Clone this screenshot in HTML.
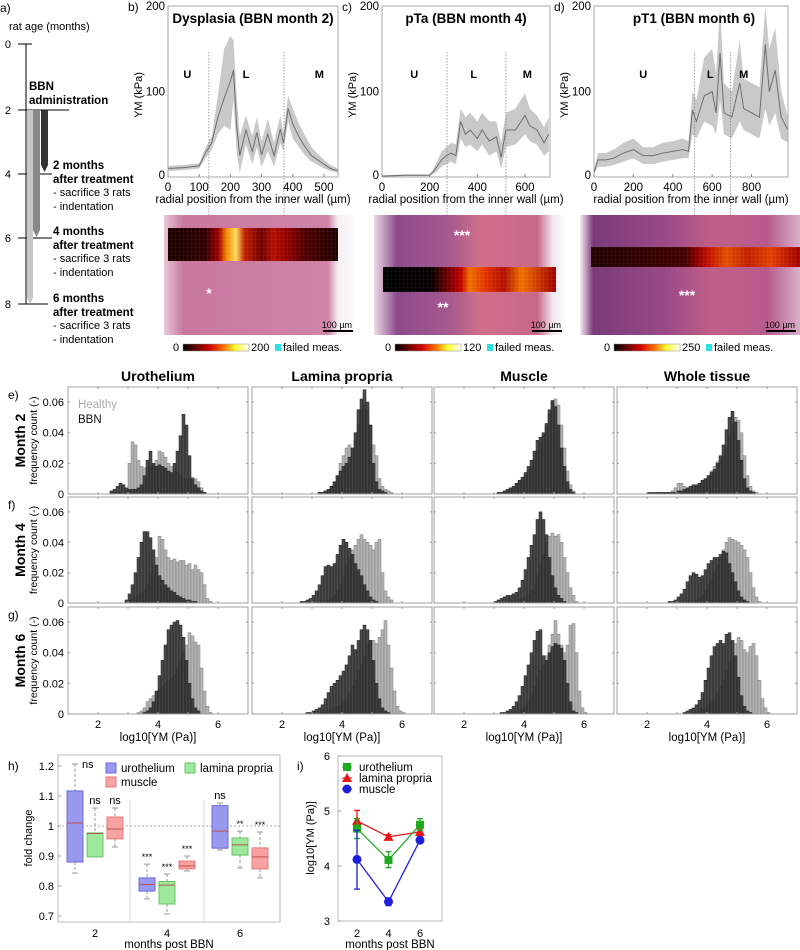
<!DOCTYPE html>
<html><head><meta charset="utf-8"><style>
html,body{margin:0;padding:0;background:#fff}
svg{display:block;font-family:"Liberation Sans",sans-serif}
</style></head><body>
<svg id="fig" width="800" height="950" viewBox="0 0 800 950" xmlns="http://www.w3.org/2000/svg">
<defs>
<linearGradient id="cbar" x1="0" x2="1"><stop offset="0" stop-color="#000"/><stop offset="0.4" stop-color="#c00"/><stop offset="0.6" stop-color="#f60"/><stop offset="0.8" stop-color="#ff3"/><stop offset="1" stop-color="#fff"/></linearGradient>
<linearGradient id="heB" x1="0" x2="1"><stop offset="0" stop-color="#e8c8d8"/><stop offset="0.1" stop-color="#c9789f"/><stop offset="0.85" stop-color="#cf84a8"/><stop offset="0.9" stop-color="#f4eef2"/><stop offset="1" stop-color="#fff"/></linearGradient>
<linearGradient id="heC" x1="0" x2="1"><stop offset="0" stop-color="#eadce4"/><stop offset="0.12" stop-color="#8e4a8c"/><stop offset="0.4" stop-color="#a85a90"/><stop offset="0.55" stop-color="#d0708a"/><stop offset="0.85" stop-color="#c8688a"/><stop offset="0.93" stop-color="#f0e6ec"/><stop offset="1" stop-color="#fff"/></linearGradient>
<linearGradient id="heD" x1="0" x2="1"><stop offset="0" stop-color="#f5eef2"/><stop offset="0.06" stop-color="#7a3a78"/><stop offset="0.4" stop-color="#9c4a88"/><stop offset="0.6" stop-color="#c06088"/><stop offset="0.85" stop-color="#b85a8c"/><stop offset="1" stop-color="#d8b0c8"/></linearGradient>
<linearGradient id="hmB" x1="0" x2="1"><stop offset="0" stop-color="#1a0000"/><stop offset="0.22" stop-color="#300000"/><stop offset="0.3" stop-color="#a00000"/><stop offset="0.34" stop-color="#f08000"/><stop offset="0.4" stop-color="#ffe060"/><stop offset="0.45" stop-color="#c02000"/><stop offset="0.55" stop-color="#700000"/><stop offset="0.62" stop-color="#b01000"/><stop offset="0.7" stop-color="#900000"/><stop offset="0.8" stop-color="#500000"/><stop offset="1" stop-color="#200000"/></linearGradient>
<linearGradient id="hmC" x1="0" x2="1"><stop offset="0" stop-color="#000"/><stop offset="0.28" stop-color="#080000"/><stop offset="0.33" stop-color="#400000"/><stop offset="0.45" stop-color="#c00000"/><stop offset="0.5" stop-color="#f07000"/><stop offset="0.6" stop-color="#e03000"/><stop offset="0.7" stop-color="#b01000"/><stop offset="0.8" stop-color="#f07000"/><stop offset="1" stop-color="#a00000"/></linearGradient>
<linearGradient id="hmD" x1="0" x2="1"><stop offset="0" stop-color="#200000"/><stop offset="0.45" stop-color="#400000"/><stop offset="0.5" stop-color="#800000"/><stop offset="0.56" stop-color="#c01000"/><stop offset="0.65" stop-color="#e05000"/><stop offset="0.75" stop-color="#c02000"/><stop offset="0.86" stop-color="#e04000"/><stop offset="1" stop-color="#a00000"/></linearGradient>
<pattern id="grid" width="4" height="4" patternUnits="userSpaceOnUse"><path d="M4 0V4H0" fill="none" stroke="rgba(255,255,255,0.15)" stroke-width="0.5"/></pattern>
</defs>

<!-- Panel a -->
<g font-size="11">
<text x="0" y="12" font-size="12">a)</text>
<text x="9" y="30">rat age (months)</text>
<line x1="26" y1="44" x2="26" y2="304" stroke="#000"/>
<line x1="18" y1="44" x2="32" y2="44" stroke="#000"/><text x="11" y="48" text-anchor="end">0</text>
<line x1="18" y1="110" x2="69" y2="110" stroke="#000"/><text x="11" y="114" text-anchor="end">2</text>
<line x1="18" y1="174" x2="52" y2="174" stroke="#000"/><text x="11" y="178" text-anchor="end">4</text>
<line x1="18" y1="238" x2="52" y2="238" stroke="#000"/><text x="11" y="242" text-anchor="end">6</text>
<line x1="18" y1="304" x2="48" y2="304" stroke="#000"/><text x="11" y="308" text-anchor="end">8</text>
<polygon points="27,110 33,110 33,298 30,304 27,298" fill="#c8c8c8"/>
<polygon points="33,110 40,110 40,230 36.5,237 33,230" fill="#888"/>
<polygon points="41,110 48,110 48,165 44.5,172 41,165" fill="#333"/>
<text x="29" y="90" font-weight="bold" font-size="11.5">BBN</text>
<text x="29" y="104" font-weight="bold" font-size="11.5">administration</text>
<g><text x="53" y="169" font-weight="bold" font-size="11.5">2 months</text><text x="53" y="183" font-weight="bold" font-size="11.5">after treatment</text><text x="53" y="196">- sacrifice 3 rats</text><text x="53" y="210">- indentation</text></g>
<g><text x="53" y="235" font-weight="bold" font-size="11.5">4 months</text><text x="53" y="249" font-weight="bold" font-size="11.5">after treatment</text><text x="53" y="262">- sacrifice 3 rats</text><text x="53" y="276">- indentation</text></g>
<g><text x="53" y="302" font-weight="bold" font-size="11.5">6 months</text><text x="53" y="316" font-weight="bold" font-size="11.5">after treatment</text><text x="53" y="329">- sacrifice 3 rats</text><text x="53" y="343">- indentation</text></g>
</g>

<g id="profiles"></g>
<g id="images"></g>
<g id="hists"></g>
<g id="panelH"></g>
<g id="panelI"></g>
</svg>
<script>
// ---------- panels b-d data ----------
const bX=[0,50,100,120,140,160,180,200,210,220,230,250,270,285,300,320,340,360,370,385,400,420,440,460,480,500,520,545];
const bMean=[10,11,13,28,40,70,92,112,125,60,25,55,30,52,26,50,25,56,40,80,62,47,35,25,20,15,10,7];
const bLo=[7,8,10,22,32,50,60,55,90,30,5,38,15,35,12,30,12,40,30,65,45,35,25,18,14,10,7,5];
const bHi=[13,14,16,34,48,95,150,165,160,95,48,72,48,70,42,68,40,72,52,95,80,62,48,35,27,20,14,10];
const cX=[0,100,200,220,250,270,290,310,330,350,370,400,420,450,480,500,520,560,600,620,650,680,700];
const cMean=[1,2,2,8,20,25,28,25,65,50,55,45,55,42,47,23,55,55,72,60,55,40,50];
const cLo=[0,1,1,4,12,15,18,15,45,35,38,30,38,25,30,10,35,38,50,42,38,25,30];
const cHi=[2,3,3,12,30,35,40,38,80,70,75,65,75,65,65,40,75,80,98,80,72,58,70];
const dX=[0,20,60,100,150,200,250,300,350,400,450,480,500,520,560,600,620,640,660,700,740,760,800,840,870,890,920,950,985];
const dMean=[5,20,20,22,28,32,25,25,28,30,32,30,78,65,95,100,75,145,75,70,110,80,75,70,155,100,125,70,55];
const dLo=[3,12,12,14,18,22,15,15,18,20,22,22,50,45,65,60,50,90,50,45,65,55,50,45,80,60,75,45,40];
const dHi=[8,28,28,32,40,45,35,35,40,42,45,42,100,90,140,150,120,200,110,100,160,115,110,105,200,150,175,100,70];
const bTicks=[0,100,200,300,400,500], cTicks=[0,200,400,600], dTicks=[0,200,400,600,800];
const yTicksYM=[0,100,200];

// ---------- histogram data (bins of 0.1 starting at 2.0, values x1000) ----------
const histBinStart=2.0, histBinWidth=0.1;
const e1H=[0,0,0,0,1,1,1,1,1,2,20,34,32,22,18,17,17,18,19,22,28,27,24,20,18,16,14,12,10,10,10,11,10,8,4,1];
const e1B=[0,0,0,0,2,3,5,7,6,4,3,3,3,4,6,12,22,28,20,18,19,18,17,15,14,20,28,38,52,45,25,10,6,4,2,1];
const e2H=[0,0,0,0,0,0,0,0,0,0,0,0,1,1,2,3,5,8,12,20,25,30,32,30,35,45,55,58,55,45,32,25,10,5,3,2,1];
const e2B=[0,0,0,0,0,0,0,0,0,0,0,0,1,1,2,3,5,8,12,15,18,20,24,30,40,55,62,68,60,45,20,8,3,2,1];
const e3H=[0,0,0,0,0,0,0,0,0,0,0,1,1,1,2,3,4,6,8,10,12,15,18,22,28,34,38,44,52,60,62,58,45,30,15,6,2];
const e3B=[0,0,0,0,0,0,0,0,0,0,0,1,1,2,3,4,5,7,9,11,14,18,22,28,35,37,40,46,55,61,57,45,30,18,8,3,1];
const e4H=[0,0,0,1,1,1,1,1,2,4,7,7,5,3,3,4,5,6,8,10,12,15,18,21,22,25,30,38,45,50,48,40,25,12,5,2,1];
const e4B=[1,1,1,1,1,1,1,1,1,1,2,2,3,4,5,6,6,7,9,10,12,14,16,20,25,32,42,50,54,47,35,22,10,4,2,1];
const f1H=[0,0,0,0,0,0,0,0,0,1,2,3,4,5,6,8,12,18,25,30,44,42,35,30,28,29,27,28,28,25,26,22,25,22,20,12,3,1];
const f1B=[0,0,0,0,0,0,0,0,0,2,6,12,20,30,40,47,47,43,35,25,18,15,12,10,8,7,5,4,3,2,2,1,1];
const f2H=[0,0,0,0,0,0,0,0,0,0,0,0,0,1,1,2,3,5,8,12,18,25,30,35,38,42,45,42,40,38,35,40,42,20,8,4,2];
const f2B=[0,0,0,0,0,0,1,1,2,3,5,8,12,18,24,25,24,26,32,38,42,40,36,32,26,22,18,12,8,4,2,1];
const f3H=[0,0,0,0,0,0,0,0,0,0,0,0,0,0,0,1,1,1,2,3,4,6,8,12,18,25,32,40,44,46,44,45,40,30,20,10,5,1];
const f3B=[0,0,0,0,0,0,0,0,0,0,1,2,3,4,5,5,6,7,10,15,22,30,38,45,55,60,55,45,30,18,10,5,3,1];
const f4H=[0,0,0,0,0,0,0,0,0,0,0,0,0,1,1,1,2,3,5,8,12,15,20,25,30,35,40,43,42,41,40,38,35,30,20,10,4,1];
const f4B=[0,0,0,0,0,0,0,1,1,2,4,6,9,14,18,20,19,17,18,22,26,28,30,30,32,34,33,26,20,14,8,4,2,1];
const g1H=[0,0,0,0,0,0,0,0,0,0,0,0,0,1,2,4,8,10,12,14,16,18,20,22,24,26,30,35,40,45,53,51,47,45,30,15,5,1];
const g1B=[0,0,0,0,0,0,0,0,0,0,0,0,0,0,0,1,2,4,8,15,25,35,45,55,58,60,61,58,50,35,20,10,4,2];
const g2H=[0,0,0,0,0,0,0,0,0,0,0,0,0,1,1,2,3,4,5,6,8,10,14,18,22,28,32,38,45,48,48,46,50,55,61,45,30,15,5,2,1];
const g2B=[0,0,0,0,0,0,0,0,1,1,2,3,4,6,10,14,18,20,22,25,28,32,38,45,42,48,55,58,55,48,35,20,10,4,2,1];
const g3H=[0,0,0,0,0,0,0,0,0,0,0,0,0,0,0,0,1,1,2,3,5,8,12,18,24,28,32,38,45,52,61,52,45,40,45,58,59,40,15,4,1];
const g3B=[0,0,0,0,0,0,0,0,0,0,0,0,1,1,2,3,5,8,12,18,25,32,40,48,54,55,38,35,40,44,46,45,43,35,20,8,2,1];
const g4H=[0,0,0,0,0,0,0,0,0,0,0,0,0,0,0,1,1,2,3,4,6,8,10,14,18,22,28,34,40,46,50,48,42,40,44,46,38,22,10,4,1];
const g4B=[0,0,0,0,0,0,0,0,0,0,0,0,1,2,3,4,6,9,14,22,30,38,44,46,48,46,52,53,48,38,24,12,5,2,1];
const histTissues=["Urothelium","Lamina propria","Muscle","Whole tissue"];
const histMonths=["Month 2","Month 4","Month 6"];
const histYTicks=[0,0.02,0.04,0.06], histXTicks=[2,4,6];

// ---------- panel h data ----------
const hGroups=[2,4,6];
const hTissues=["urothelium","lamina propria","muscle"];
const hWhiskLo=[[0.843,0.897,0.93],[0.757,0.707,0.85],[0.92,0.86,0.827]];
const hQ1=[[0.88,0.897,0.957],[0.783,0.74,0.857],[0.926,0.903,0.857]];
const hMedian=[[1.01,0.975,0.99],[0.805,0.803,0.867],[0.983,0.937,0.897]];
const hQ3=[[1.117,0.977,1.03],[0.827,0.815,0.883],[1.068,0.96,0.927]];
const hWhiskHi=[[1.207,1.06,1.06],[0.873,0.84,0.9],[1.077,0.983,0.98]];
const hSig=[["ns","ns","ns"],["***","***","***"],["ns","**","***"]];
const hYTicks=[0.7,0.8,0.9,1.0,1.1,1.2];

// ---------- panel i data ----------
const iMonths=[2,4,6];
const iUroMean=[4.68,4.11,4.75], iUroLo=[4.5,3.97,4.65], iUroHi=[4.86,4.26,4.86];
const iLpMean=[4.82,4.53,4.62], iLpLo=[4.65,4.49,4.55], iLpHi=[5.01,4.57,4.68];
const iMusMean=[4.12,3.35,4.47], iMusLo=[3.58,3.28,4.43], iMusHi=[4.65,3.42,4.52];
const iYTicks=[3,4,5,6];

const NS="http://www.w3.org/2000/svg";
function mk(parent,tag,attrs,text){const e=document.createElementNS(NS,tag);for(const k in attrs)e.setAttribute(k,attrs[k]);if(text!==undefined)e.textContent=text;parent.appendChild(e);return e;}

// ---------- profiles ----------
const prof=document.getElementById('profiles');
const profiles=[
 {id:'b',x0:168,x1:338,xmax:545,X:bX,M:bMean,L:bLo,H:bHi,ticks:bTicks,title:'Dysplasia (BBN month 2)',dash:[131,372],reg:[[62,'U'],[250,'L'],[485,'M']]},
 {id:'c',x0:382,x1:550,xmax:705,X:cX,M:cMean,L:cLo,H:cHi,ticks:cTicks,title:'pTa (BBN month 4)',dash:[273,520],reg:[[135,'U'],[385,'L'],[610,'M']]},
 {id:'d',x0:594,x1:788,xmax:985,X:dX,M:dMean,L:dLo,H:dHi,ticks:dTicks,title:'pT1 (BBN month 6)',dash:[511,693],reg:[[250,'U'],[590,'L'],[760,'M']]}
];
const pyTop=6,pyBot=177;
profiles.forEach(p=>{
 const g=mk(prof,'g',{});
 
 
 const sx=v=>p.x0+v/p.xmax*(p.x1-p.x0);
 const sy=v=>pyBot-Math.min(v,200)/200*(pyBot-pyTop);
 let band='M'+p.X.map((x,i)=>sx(x)+','+sy(p.H[i])).join('L')+'L'+p.X.slice().reverse().map((x,i)=>sx(x)+','+sy(p.L[p.X.length-1-i])).join('L')+'Z';
 const bp=mk(g,'path',{d:band,fill:'#c9c9c9',stroke:'none'});
 
 
 const lp=mk(g,'path',{d:'M'+p.X.map((x,i)=>sx(x)+','+sy(p.M[i])).join('L'),fill:'none',stroke:'#6e6e6e','stroke-width':1});
 
 
 mk(g,'rect',{x:p.x0,y:pyTop,width:p.x1-p.x0,height:pyBot-pyTop,fill:'none',stroke:'#aaa'});
 p.dash.forEach(d=>{const l=mk(g,'line',{x1:sx(d),x2:sx(d),y1:52,y2:p.id==='b'?262:(p.id==='c'?292:266),stroke:'#888','stroke-dasharray':'1.5,1.5','stroke-width':0.8});
  
  });
 p.reg.forEach(r=>{const t=mk(g,'text',{x:sx(r[0]),y:78,'text-anchor':'middle','font-size':11,'font-weight':'bold'},r[1]);
  
  });
 p.ticks.forEach(t=>{mk(g,'line',{x1:sx(t),x2:sx(t),y1:pyBot,y2:pyBot-3,stroke:'#888'});
  const tl=mk(g,'text',{x:sx(t),y:pyBot+14,'text-anchor':'middle','font-size':11.5},t);
  
  });
 yTicksYM.forEach(t=>{const tl=mk(g,'text',{x:p.x0-3,y:sy(t)+(t===0?2:4),'text-anchor':'end','font-size':11.5},t);
  
  });
 const yl=mk(g,'text',{transform:`translate(${p.x0-26},95) rotate(-90)`,'text-anchor':'middle','font-size':11},'YM (kPa)');
 
 
 const xl=mk(g,'text',{x:(p.x0+p.x1)/2,y:203,'text-anchor':'middle','font-size':11.5},'radial position from the inner wall (µm)');
 
 
 const tt=mk(g,'text',{x:(p.x0+p.x1)/2+(p.id==='d'?3:0),y:23,'text-anchor':'middle','font-size':13.5,'font-weight':'bold'},p.title);
 
 
 const pl=mk(g,'text',{x:p.x0-40,y:11,'font-size':12},p.id+')');
 
 
});

// ---------- images ----------
const img=document.getElementById('images');
const imgs=[
 {id:'b',x:164,w:193,he:'heB',hm:'hmB',sx:168,sw:170,sy:228,sh:33,star:'*',stx:209,sty:298,max:'200',cb:176},
 {id:'c',x:374,w:192,he:'heC',hm:'hmC',sx:383,sw:173,sy:267,sh:25,star:'**',stx:443,sty:312,max:'120',cb:388,star2:'***',s2x:462,s2y:240},
 {id:'d',x:580,w:220,he:'heD',hm:'hmD',sx:591,sw:209,sy:247,sh:20,star:'***',stx:687,sty:300,max:'250',cb:607}
];
imgs.forEach(m=>{
 const g=mk(img,'g',{});
 
 
 mk(g,'rect',{x:m.x,y:215,width:m.w,height:120,fill:'url(#'+m.he+')'});
 const hm=mk(g,'rect',{x:m.sx,y:m.sy,width:m.sw,height:m.sh,fill:'url(#'+m.hm+')'});
 
 
 mk(g,'rect',{x:m.sx,y:m.sy,width:m.sw,height:m.sh,fill:'url(#grid)'});
 mk(g,'text',{x:m.stx,y:m.sty,fill:'#fff','font-size':14,'font-weight':'bold','text-anchor':'middle'},m.star);
 if(m.star2)mk(g,'text',{x:m.s2x,y:m.s2y,fill:'#fff','font-size':14,'font-weight':'bold','text-anchor':'middle'},m.star2);
 mk(g,'text',{x:m.x+m.w-5,y:328,'font-size':9,'text-anchor':'end'},'100 µm');
 mk(g,'rect',{x:m.x+m.w-34,y:330,width:30,height:2,fill:'#000'});
 const cb=mk(g,'g',{});
 
 
 mk(cb,'text',{x:m.cb,y:351,'font-size':11,'text-anchor':'middle'},'0');
 mk(cb,'rect',{x:m.cb+7,y:344,width:66,height:7,fill:'url(#cbar)',stroke:'#888','stroke-width':0.5});
 mk(cb,'text',{x:m.cb+75,y:351,'font-size':11},m.max);
 mk(cb,'rect',{x:m.cb+99,y:344,width:6,height:7,fill:'#2ee0e8'});
 mk(cb,'text',{x:m.cb+107,y:351,'font-size':11},'failed meas.');
});

// ---------- histograms ----------
const hs=document.getElementById('hists');
const colX=[68,252,434,617], colW=180;
const rowTop=[387,497,607], rowBot=[494,603,714];
const histYmax=0.0698;
const histData=[[[e1H,e1B],[e2H,e2B],[e3H,e3B],[e4H,e4B]],[[f1H,f1B],[f2H,f2B],[f3H,f3B],[f4H,f4B]],[[g1H,g1B],[g2H,g2B],[g3H,g3B],[g4H,g4B]]];
histTissues.forEach((t,c)=>{const tt=mk(hs,'text',{x:colX[c]+colW/2,y:381,'text-anchor':'middle','font-size':14,'font-weight':'bold'},t);
 
 });
histMonths.forEach((mo,r)=>{
 const lab=mk(hs,'text',{x:8,y:rowTop[r]+12,'font-size':12},['e)','f)','g)'][r]);
 
 
 const ml=mk(hs,'text',{transform:`translate(25,${(rowTop[r]+rowBot[r])/2}) rotate(-90)`,'text-anchor':'middle','font-size':14,'font-weight':'bold'},mo);
 
 
 const yl=mk(hs,'text',{transform:`translate(37,${(rowTop[r]+rowBot[r])/2}) rotate(-90)`,'text-anchor':'middle','font-size':10.5},'frequency count (-)');
 
 
 for(let c=0;c<4;c++){
  const g=mk(hs,'g',{});
  
  
  const sx=v=>colX[c]+(v-1)/6*colW;
  const sy=v=>rowBot[r]-v/histYmax*(rowBot[r]-rowTop[r]);
  const [H,B]=histData[r][c];
  [[H,'#b4b4b4','#7a7a7a','healthy-bar'],[B,'rgba(45,45,45,0.85)','#1e1e1e','bbn-bar']].forEach(([arr,fill,st,nm])=>{
   arr.forEach((v,i)=>{if(v<=0)return;const x0=sx(histBinStart+i*histBinWidth),x1=sx(histBinStart+(i+1)*histBinWidth);
    const val=v/1000;
    const b=mk(g,'rect',{x:x0,y:sy(val),width:x1-x0,height:rowBot[r]-sy(val),fill:fill,stroke:st,'stroke-width':0.5});
    
    });
  });
  mk(g,'rect',{x:colX[c],y:rowTop[r],width:colW,height:rowBot[r]-rowTop[r],fill:'none',stroke:'#a0a0a0'});
  for(let k=2;k<=6;k++){mk(g,'line',{x1:sx(k),x2:sx(k),y1:rowBot[r],y2:rowBot[r]-2,stroke:'#999'});mk(g,'line',{x1:sx(k),x2:sx(k),y1:rowTop[r],y2:rowTop[r]+2,stroke:'#999'});}
  histYTicks.forEach(t=>{mk(g,'line',{x1:colX[c],x2:colX[c]+2,y1:sy(t),y2:sy(t),stroke:'#999'});mk(g,'line',{x1:colX[c]+colW,x2:colX[c]+colW-2,y1:sy(t),y2:sy(t),stroke:'#999'});
   if(c===0){const tl=mk(g,'text',{x:colX[c]-4,y:sy(t)+4,'text-anchor':'end','font-size':11},t===0?'0':t.toFixed(2));
    
    }});
  if(r===2){histXTicks.forEach(t=>{const tl=mk(g,'text',{x:sx(t),y:728,'text-anchor':'middle','font-size':11},t);
    
    });
   const xl=mk(g,'text',{x:colX[c]+colW/2,y:741,'text-anchor':'middle','font-size':11.5},'log10[YM (Pa)]');
   
   }
  if(r===0&&c===0){
   const l1=mk(g,'text',{x:78,y:408,'font-size':11.5,fill:'#aaa'},'Healthy');
   
   
   const l2=mk(g,'text',{x:78,y:423,'font-size':11.5,fill:'#111'},'BBN');
   
   }
 }
});

// ---------- panel h ----------
const ph=document.getElementById('panelH');
const hx0=58,hx1=280,hyT=755,hyB=922;
const hsy=v=>766+(1.2-v)*300;
const hGroupX=[95,167,240], hOff=[-20,0,20];
const hFill=['#9999ee','#9ee89e','#f7a3a3'], hStroke=['#6b6bdd','#66c466','#e57a7a'];
mk(ph,'text',{x:8,y:770,'font-size':12},'h)');
mk(ph,'rect',{x:hx0,y:hyT,width:hx1-hx0,height:hyB-hyT,fill:'none',stroke:'#bbb'});
[130,204].forEach(x=>mk(ph,'line',{x1:x,x2:x,y1:800,y2:hyB,stroke:'#ddd'}));
const refl=mk(ph,'line',{x1:hx0,x2:hx1,y1:hsy(1),y2:hsy(1),stroke:'#aaa','stroke-dasharray':'2,2'});


hYTicks.forEach(t=>{mk(ph,'line',{x1:hx0,x2:hx0+3,y1:hsy(t),y2:hsy(t),stroke:'#999'});
 const tl=mk(ph,'text',{x:hx0-4,y:hsy(t)+4,'text-anchor':'end','font-size':11},t===1?'1':t.toFixed(1));
 
 });
hGroups.forEach((gv,gi)=>{
 const tl=mk(ph,'text',{x:hGroupX[gi],y:937,'text-anchor':'middle','font-size':11},gv);
 
 
 for(let k=0;k<3;k++){
  const cx=hGroupX[gi]+hOff[k];
  const g=mk(ph,'g',{});
  
  
  mk(g,'line',{x1:cx,x2:cx,y1:hsy(hWhiskHi[gi][k]),y2:hsy(hQ3[gi][k]),stroke:'#999','stroke-dasharray':'3,2'});
  mk(g,'line',{x1:cx,x2:cx,y1:hsy(hQ1[gi][k]),y2:hsy(hWhiskLo[gi][k]),stroke:'#999','stroke-dasharray':'3,2'});
  mk(g,'line',{x1:cx-3,x2:cx+3,y1:hsy(hWhiskHi[gi][k]),y2:hsy(hWhiskHi[gi][k]),stroke:'#999'});
  mk(g,'line',{x1:cx-3,x2:cx+3,y1:hsy(hWhiskLo[gi][k]),y2:hsy(hWhiskLo[gi][k]),stroke:'#999'});
  mk(g,'rect',{x:cx-8,y:hsy(hQ3[gi][k]),width:16,height:hsy(hQ1[gi][k])-hsy(hQ3[gi][k]),fill:hFill[k],stroke:hStroke[k]});
  mk(g,'line',{x1:cx-8,x2:cx+8,y1:hsy(hMedian[gi][k]),y2:hsy(hMedian[gi][k]),stroke:'#c0504d'});
  const s=hSig[gi][k];
  mk(g,'text',{x:cx+(gi===0&&k===0?7:0),y:hsy(hWhiskHi[gi][k])-(gi===0&&k===0?-4:4),'text-anchor':gi===0&&k===0?'start':'middle','font-size':s==='ns'?11:9},s);
 }
});
const hl=mk(ph,'g',{});


[[106,763,0,'urothelium'],[185,763,1,'lamina propria'],[106,777,2,'muscle']].forEach(([x,y,k,t])=>{
 mk(hl,'rect',{x:x,y:y,width:10,height:10,fill:hFill[k],stroke:hStroke[k]});
 mk(hl,'text',{x:x+15,y:y+9,'font-size':11.5},t);});
mk(ph,'text',{transform:'translate(32,838) rotate(-90)','text-anchor':'middle','font-size':11},'fold change');
mk(ph,'text',{x:169,y:948,'text-anchor':'middle','font-size':11.5},'months post BBN');

// ---------- panel i ----------
const pi=document.getElementById('panelI');
const ix0=338,ix1=442,iyT=756,iyB=921;
const isx=v=>357+(v-2)/2*31.5;
const isy=v=>iyB-(v-3)/3*(iyB-iyT);
mk(pi,'text',{x:297,y:770,'font-size':12},'i)');
mk(pi,'rect',{x:ix0,y:iyT,width:ix1-ix0,height:iyB-iyT,fill:'none',stroke:'#bbb'});
iYTicks.forEach(t=>{mk(pi,'line',{x1:ix0,x2:ix0+3,y1:isy(t),y2:isy(t),stroke:'#999'});
 const tl=mk(pi,'text',{x:ix0-8,y:isy(t)+4,'text-anchor':'end','font-size':11},t);
 
 });
iMonths.forEach(m=>{const tl=mk(pi,'text',{x:isx(m),y:937,'text-anchor':'middle','font-size':11},m);
 
 });
const iSeries=[[iLpMean,iLpLo,iLpHi,'#e8141a','tri','lamina-propria'],[iUroMean,iUroLo,iUroHi,'#1faa1f','sq','urothelium'],[iMusMean,iMusLo,iMusHi,'#1f1fe0','circ','muscle']];
function marker(g,sh,x,y,col){
 if(sh==='sq')return mk(g,'rect',{x:x-4,y:y-4,width:8,height:8,fill:col});
 if(sh==='tri')return mk(g,'polygon',{points:`${x},${y-5} ${x+5},${y+4} ${x-5},${y+4}`,fill:col});
 return mk(g,'circle',{cx:x,cy:y,r:4.5,fill:col});}
iSeries.forEach(([M,L,H,col,sh,nm])=>{
 const g=mk(pi,'g',{});
 
 
 mk(g,'path',{d:'M'+iMonths.map((m,i)=>isx(m)+','+isy(M[i])).join('L'),fill:'none',stroke:col,'stroke-width':1.3});
 iMonths.forEach((m,i)=>{const x=isx(m);
  mk(g,'line',{x1:x,x2:x,y1:isy(H[i]),y2:isy(L[i]),stroke:col,'stroke-width':1.3});
  mk(g,'line',{x1:x-3,x2:x+3,y1:isy(H[i]),y2:isy(H[i]),stroke:col,'stroke-width':1.3});
  mk(g,'line',{x1:x-3,x2:x+3,y1:isy(L[i]),y2:isy(L[i]),stroke:col,'stroke-width':1.3});
  const mm=marker(g,sh,x,isy(M[i]),col);
  
  });
});
const il=mk(pi,'g',{});


[['#1faa1f','sq','urothelium',767],['#e8141a','tri','lamina propria',778],['#1f1fe0','circ','muscle',789]].forEach(([col,sh,t,y])=>{
 mk(il,'line',{x1:342,x2:352,y1:y,y2:y,stroke:col});
 marker(il,sh,347,y,col);
 mk(il,'text',{x:359,y:y+4,'font-size':11.5},t);});
mk(pi,'text',{transform:'translate(314,838) rotate(-90)','text-anchor':'middle','font-size':11},'log10[YM (Pa)]');
mk(pi,'text',{x:390,y:948,'text-anchor':'middle','font-size':11.5},'months post BBN');
</script>
</body></html>
